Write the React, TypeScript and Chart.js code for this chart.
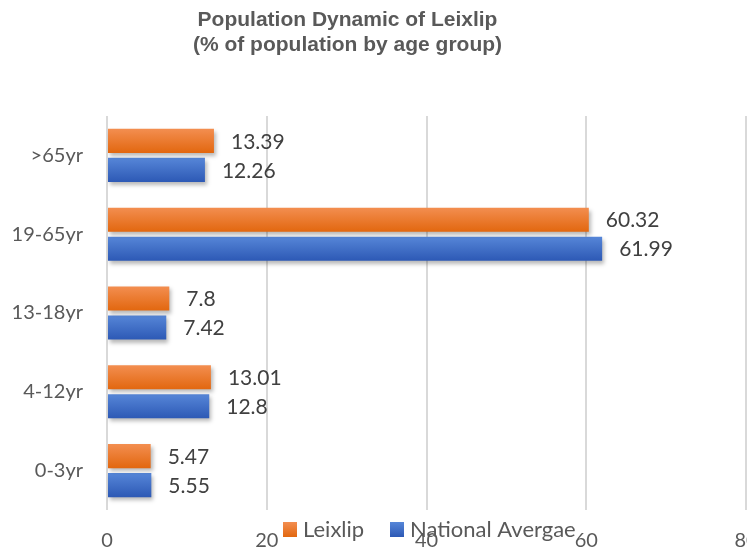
import React, { useEffect, useRef } from "react";
import { Chart, registerables } from "chart.js";

Chart.register(...registerables);

const categories = [">65yr", "19-65yr", "13-18yr", "4-12yr", "0-3yr"];
const leixlip = [13.39, 60.32, 7.8, 13.01, 5.47];
const nationalAverage = [12.26, 61.99, 7.42, 12.8, 5.55];
const seriesNames = ["Leixlip", "National Avergae"];
const xTicks = [0, 20, 40, 60, 80];
const titleLines = ["Population Dynamic of Leixlip", "(% of population by age group)"];

const CAT_PCT = 0.736;
const BAR_PCT = 0.83;
const FONT = "Lato, 'Open Sans', sans-serif";

const palettes = [
  { top: "#F38E50", bottom: "#E2670F", solid: "#ED7D31" },
  { top: "#5686D8", bottom: "#2D59B5", solid: "#4472C4" },
];

function gradientFor(dsIndex: number) {
  return (ctx: any) => {
    const chart = ctx.chart;
    const area = chart.chartArea;
    const y = chart.scales?.y;
    const p = palettes[dsIndex];
    if (!area || !y || ctx.dataIndex === undefined) return p.solid;
    const catW = (area.bottom - area.top) / categories.length;
    const slot = (catW * CAT_PCT) / 2;
    const thick = slot * BAR_PCT;
    const center = y.getPixelForValue(ctx.dataIndex) + (dsIndex === 0 ? -slot / 2 : slot / 2);
    const g = chart.ctx.createLinearGradient(0, center - thick / 2, 0, center + thick / 2);
    g.addColorStop(0, p.top);
    g.addColorStop(1, p.bottom);
    return g;
  };
}

const shadowPlugin = {
  id: "barShadow",
  beforeDatasetsDraw(chart: any) {
    const c = chart.ctx;
    c.save();
    c.shadowColor = "rgba(0,0,0,0.28)";
    c.shadowBlur = 4;
    c.shadowOffsetX = 2;
    c.shadowOffsetY = 3;
  },
  afterDatasetsDraw(chart: any) {
    chart.ctx.restore();
  },
};

const labelsPlugin = {
  id: "valueLabels",
  afterDatasetsDraw(chart: any) {
    const c = chart.ctx;
    c.save();
    c.font = `21px ${FONT}`;
    c.fillStyle = "#404040";
    c.textAlign = "left";
    c.textBaseline = "middle";
    chart.data.datasets.forEach((ds: any, di: number) => {
      const meta = chart.getDatasetMeta(di);
      meta.data.forEach((el: any, i: number) => {
        c.fillText(String(ds.data[i]), el.x + 17, el.y + 1);
      });
    });
    c.restore();
  },
};

const titlePlugin = {
  id: "customTitle",
  afterDraw(chart: any) {
    const c = chart.ctx;
    c.save();
    c.font = `bold 21px 'Liberation Sans', Arial, sans-serif`;
    c.fillStyle = "#595959";
    c.textAlign = "center";
    c.textBaseline = "alphabetic";
    c.fillText(titleLines[0], 339.5, 18);
    c.fillText(titleLines[1], 339.5, 43);
    c.restore();
  },
};

const legendPlugin = {
  id: "customLegend",
  afterDraw(chart: any) {
    const c = chart.ctx;
    c.save();
    c.font = `22px ${FONT}`;
    c.textBaseline = "middle";
    c.textAlign = "left";
    const items = [
      { x: 275, name: seriesNames[0], p: palettes[0] },
      { x: 382, name: seriesNames[1], p: palettes[1] },
    ];
    items.forEach((it) => {
      const g = c.createLinearGradient(0, 514, 0, 529);
      g.addColorStop(0, it.p.top);
      g.addColorStop(1, it.p.bottom);
      c.fillStyle = g;
      c.fillRect(it.x, 514, 14, 15);
      c.fillStyle = "#595959";
      c.fillText(it.name, it.x + 20, 522);
    });
    c.restore();
  },
};

export default function App() {
  const ref = useRef<HTMLCanvasElement>(null);
  useEffect(() => {
    if (!ref.current) return;
    const chart = new Chart(ref.current, {
      type: "bar",
      data: {
        labels: categories,
        datasets: [
          {
            label: seriesNames[0],
            data: leixlip,
            backgroundColor: gradientFor(0),
            categoryPercentage: CAT_PCT,
            barPercentage: BAR_PCT,
          },
          {
            label: seriesNames[1],
            data: nationalAverage,
            backgroundColor: gradientFor(1),
            categoryPercentage: CAT_PCT,
            barPercentage: BAR_PCT,
          },
        ],
      },
      options: {
        indexAxis: "y",
        responsive: false,
        animation: false,
        devicePixelRatio: 1,
        layout: { padding: { top: 108, right: 22, bottom: 0, left: 0 } },
        plugins: {
          legend: { display: false },
          title: { display: false },
          tooltip: { enabled: false },
        },
        scales: {
          x: {
            min: xTicks[0],
            max: xTicks[xTicks.length - 1],
            afterBuildTicks: (s: any) => {
              s.ticks = xTicks.map((v) => ({ value: v }));
            },
            afterFit: (s: any) => {
              s.height = 43;
              s.paddingRight = 0;
              s.paddingLeft = 0;
            },
            grid: { color: "#D9D9D9", lineWidth: 2, drawTicks: false },
            border: { display: false },
            ticks: {
              padding: 19,
              color: "#595959",
              font: { family: FONT, size: 20 },
              maxRotation: 0,
              autoSkip: false,
            },
          },
          y: {
            afterFit: (s: any) => {
              s.width = 99;
              s.paddingTop = 0;
              s.paddingBottom = 0;
            },
            grid: { display: false, drawTicks: false },
            border: { display: false },
            ticks: {
              padding: 24,
              color: "#595959",
              font: { family: FONT, size: 20 },
            },
          },
        },
      },
      plugins: [shadowPlugin, labelsPlugin, titlePlugin, legendPlugin],
    });
    return () => chart.destroy();
  }, []);

  return (
    <div style={{ width: 739, height: 545, overflow: "hidden", background: "#fff" }}>
      <canvas ref={ref} width={760} height={545} style={{ display: "block" }} />
    </div>
  );
}
